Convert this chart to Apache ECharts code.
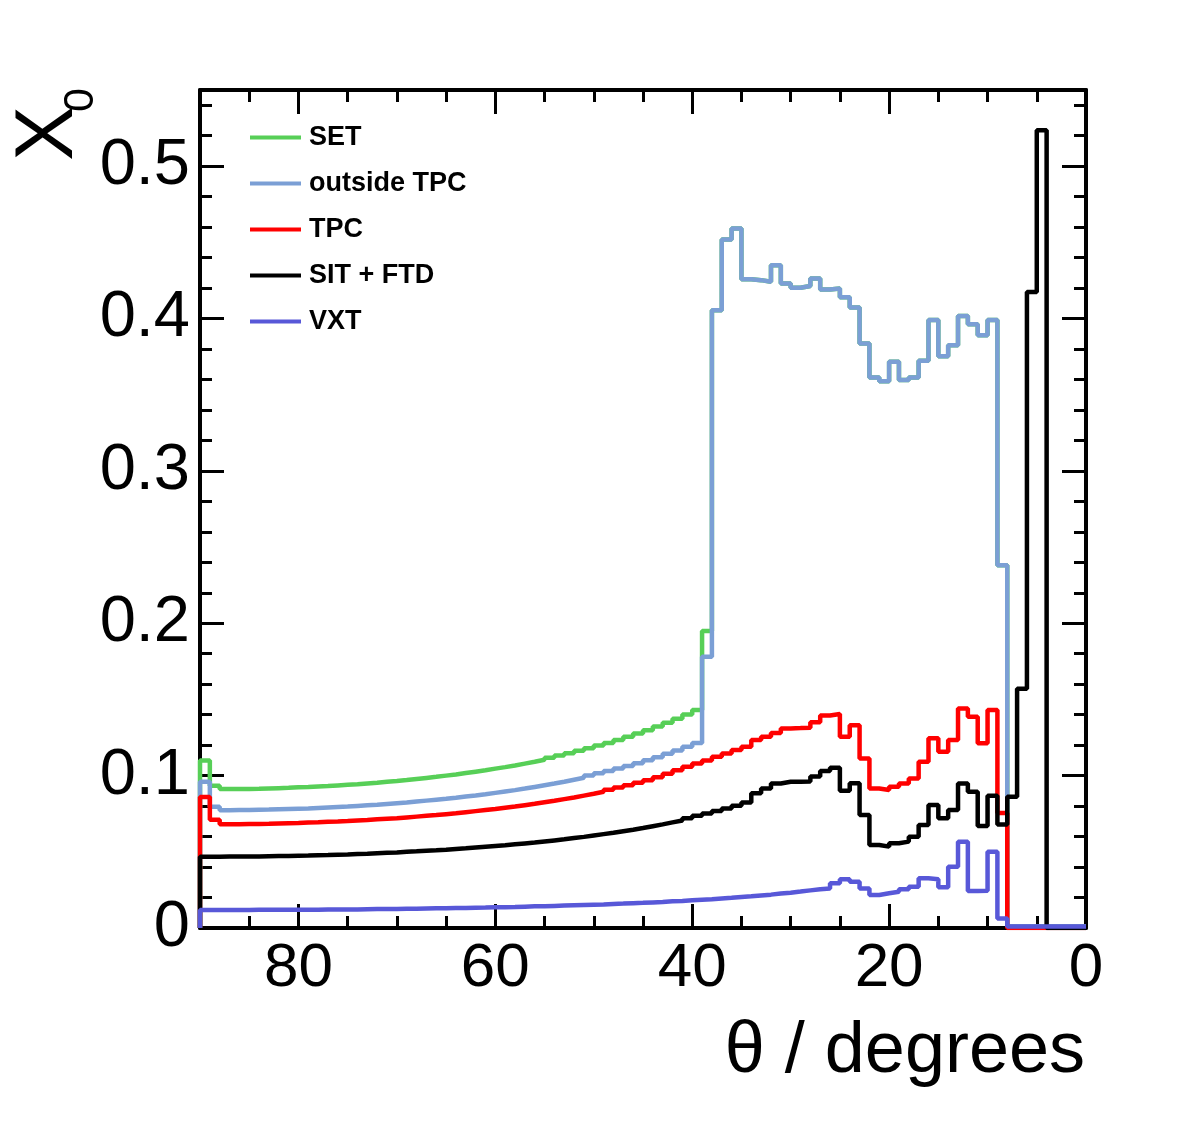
<!DOCTYPE html>
<html>
<head>
<meta charset="utf-8">
<script src="https://cdn.jsdelivr.net/npm/echarts@6/dist/echarts.min.js"></script>
<style>
  html, body { margin: 0; padding: 0; background: #fff; }
  #chart { width: 1182px; height: 1134px; }
</style>
</head>
<body>
<div id="chart"></div>
<script>
// bin contents, 1 degree bins, from theta = 89.5 down to 0.5
var seriesNames = ['SET', 'outside TPC', 'TPC', 'SIT + FTD', 'VXT'];
var seriesColors = ['#57cf57', '#7b9fd5', '#ff0000', '#000000', '#5858d8'];

var setX0 = [
  0.110, 0.0933, 0.0912, 0.0912, 0.0913, 0.0914, 0.0916, 0.0918, 0.0920, 0.0923,
  0.0925, 0.0929, 0.0932, 0.0936, 0.0940, 0.0944, 0.0949, 0.0954, 0.0960, 0.0965,
  0.0971, 0.0978, 0.0985, 0.0992, 0.1000, 0.1008, 0.1017, 0.1026, 0.1035, 0.1046,
  0.1056, 0.1067, 0.1079, 0.1091, 0.1104, 0.1118, 0.1132, 0.1147, 0.1163, 0.1179,
  0.1197, 0.1215, 0.1234, 0.1255, 0.1276, 0.1298, 0.1322, 0.1347, 0.1373, 0.1401,
  0.1431, 0.195, 0.4055, 0.4519, 0.4591, 0.4258, 0.4252, 0.4241, 0.435, 0.423,
  0.4202, 0.4213, 0.4263, 0.4191, 0.4197, 0.414, 0.4073, 0.3836, 0.3613, 0.3589,
  0.3716, 0.3596, 0.3613, 0.3723, 0.399, 0.3753, 0.3825, 0.4016, 0.3963, 0.3891,
  0.399, 0.238, 0.001, 0.001, 0.001, 0.001, 0.001, 0.001, 0.001, 0.001
];
var outsideTpcX0 = [
  0.096, 0.0796, 0.0773, 0.0774, 0.0775, 0.0776, 0.0777, 0.0779, 0.0781, 0.0783,
  0.0785, 0.0788, 0.0791, 0.0794, 0.0797, 0.0801, 0.0805, 0.0809, 0.0814, 0.0819,
  0.0824, 0.0830, 0.0836, 0.0842, 0.0848, 0.0855, 0.0863, 0.0870, 0.0878, 0.0887,
  0.0896, 0.0905, 0.0915, 0.0926, 0.0937, 0.0948, 0.0960, 0.0973, 0.0986, 0.1001,
  0.1015, 0.1031, 0.1047, 0.1064, 0.1082, 0.1101, 0.1121, 0.1143, 0.1165, 0.1189,
  0.1214, 0.178, 0.4055, 0.4519, 0.4591, 0.4258, 0.4252, 0.4241, 0.435, 0.423,
  0.4202, 0.4213, 0.4263, 0.4191, 0.4197, 0.414, 0.4073, 0.3836, 0.3613, 0.3589,
  0.3716, 0.3596, 0.3613, 0.3723, 0.399, 0.3753, 0.3825, 0.4016, 0.3963, 0.3891,
  0.399, 0.238, 0.001, 0.001, 0.001, 0.001, 0.001, 0.001, 0.001, 0.001
];
var tpcX0 = [
  0.086, 0.071, 0.0681, 0.0681, 0.0682, 0.0683, 0.0684, 0.0686, 0.0688, 0.0689,
  0.0692, 0.0694, 0.0697, 0.0699, 0.0702, 0.0706, 0.0709, 0.0713, 0.0717, 0.0721,
  0.0726, 0.0731, 0.0736, 0.0741, 0.0747, 0.0753, 0.0760, 0.0767, 0.0774, 0.0781,
  0.0789, 0.0797, 0.0806, 0.0815, 0.0825, 0.0835, 0.0846, 0.0857, 0.0869, 0.0881,
  0.0894, 0.0908, 0.0922, 0.0937, 0.0953, 0.0970, 0.0990, 0.1012, 0.1035, 0.1058,
  0.1080, 0.1100, 0.1124, 0.1146, 0.1168, 0.1190, 0.1234, 0.1255, 0.1280, 0.1310,
  0.1312, 0.1315, 0.1350, 0.1395, 0.1405, 0.1255, 0.1330, 0.1113, 0.0916, 0.0906,
  0.0927, 0.0949, 0.0982, 0.1091, 0.1245, 0.1157, 0.1234, 0.1441, 0.1387, 0.1212,
  0.1430, 0.0755, 0, 0, 0, 0, 0, 0, 0, 0
];
var sitFtdX0 = [
  0.0468, 0.0468, 0.0469, 0.0469, 0.0470, 0.0470, 0.0471, 0.0472, 0.0473, 0.0475,
  0.0476, 0.0478, 0.0479, 0.0481, 0.0483, 0.0486, 0.0488, 0.0491, 0.0494, 0.0496,
  0.0500, 0.0503, 0.0507, 0.0510, 0.0514, 0.0519, 0.0523, 0.0528, 0.0533, 0.0538,
  0.0543, 0.0549, 0.0555, 0.0561, 0.0568, 0.0575, 0.0582, 0.0590, 0.0598, 0.0607,
  0.0616, 0.0625, 0.0635, 0.0645, 0.0656, 0.0668, 0.0680, 0.0693, 0.0706, 0.0721,
  0.0736, 0.0751, 0.0768, 0.0785, 0.0803, 0.0823, 0.0884, 0.0916, 0.0949, 0.0960,
  0.0960, 0.0962, 0.0995, 0.1030, 0.1052, 0.0900, 0.0950, 0.0741, 0.0545, 0.0534,
  0.0556, 0.0567, 0.0599, 0.0676, 0.0807, 0.0720, 0.0774, 0.0949, 0.0895, 0.0670,
  0.0868, 0.0680, 0.0862, 0.157, 0.4175, 0.5236, 0, 0, 0, 0
];
var vxtX0 = [
  0.0118, 0.0118, 0.0118, 0.0118, 0.0118, 0.0119, 0.0119, 0.0119, 0.0119, 0.0120,
  0.0120, 0.0120, 0.0121, 0.0121, 0.0122, 0.0122, 0.0123, 0.0124, 0.0124, 0.0125,
  0.0126, 0.0127, 0.0128, 0.0129, 0.0130, 0.0131, 0.0132, 0.0133, 0.0134, 0.0136,
  0.0137, 0.0138, 0.0140, 0.0142, 0.0143, 0.0145, 0.0147, 0.0149, 0.0151, 0.0153,
  0.0155, 0.0158, 0.0160, 0.0163, 0.0165, 0.0168, 0.0171, 0.0175, 0.0178, 0.0182,
  0.0186, 0.0189, 0.0194, 0.0198, 0.0203, 0.0208, 0.0214, 0.0219, 0.0226, 0.0232,
  0.0239, 0.0247, 0.0255, 0.0260, 0.0293, 0.0320, 0.0304, 0.0260, 0.0217, 0.0228,
  0.0238, 0.0254, 0.0271, 0.0326, 0.0320, 0.0267, 0.0402, 0.0566, 0.0243, 0.0245,
  0.0500, 0.0063, 0.001, 0.001, 0.001, 0.001, 0.001, 0.001, 0.001, 0.001
];
var allValues = [setX0, outsideTpcX0, tpcX0, sitFtdX0, vxtX0];

var thetaMax = 90;
var font = 'Liberation Sans';

// histogram outline: start at 0 on the left edge, one point per bin upper edge
function histPoints(vals) {
  var pts = [[thetaMax, 0]];
  for (var i = 0; i < vals.length; i++) {
    pts.push([thetaMax - i, vals[i]]);
  }
  pts.push([thetaMax - vals.length, vals[vals.length - 1]]);
  return pts;
}

var chart = echarts.init(document.getElementById('chart'));

var frameLine = { show: true, onZero: false, lineStyle: { color: '#000', width: 4 } };
function tick(len) {
  return { show: true, inside: true, length: len, lineStyle: { color: '#000', width: 3 } };
}
function xAx(pos, interval, major, labels) {
  return {
    type: 'value', min: 0, max: 90, inverse: true, position: pos, interval: interval,
    axisLine: major ? frameLine : { show: false, onZero: false },
    axisTick: tick(major ? 24 : 12),
    axisLabel: labels ? { show: true, fontSize: 62, fontFamily: font, color: '#000', margin: 10, showMaxLabel: false } : { show: false },
    splitLine: { show: false }
  };
}
function yAx(pos, interval, major, labels) {
  return {
    type: 'value', min: 0, max: 0.55, position: pos, interval: interval,
    axisLine: major ? frameLine : { show: false, onZero: false },
    axisTick: tick(major ? 24 : 12),
    axisLabel: labels ? { show: true, fontSize: 65, fontFamily: font, color: '#000', margin: 10, showMaxLabel: false } : { show: false },
    splitLine: { show: false }
  };
}

var option = {
  animation: false,
  backgroundColor: '#fff',
  grid: { left: 200, right: 96, top: 90, bottom: 206, containLabel: false, outerBoundsMode: 'none' },
  legend: {
    orient: 'vertical', left: 245, top: 119, itemGap: 19,
    icon: 'rect', itemWidth: 51, itemHeight: 4,
    textStyle: { fontSize: 27, fontWeight: 'bold', fontFamily: font, color: '#000', padding: [0, 0, 0, 3] },
    data: seriesNames
  },
  xAxis: [
    xAx('bottom', 20, true, true),
    xAx('bottom', 5, false, false),
    xAx('top', 20, true, false),
    xAx('top', 5, false, false)
  ],
  yAxis: [
    yAx('left', 0.1, true, true),
    yAx('left', 0.02, false, false),
    yAx('right', 0.1, true, false),
    yAx('right', 0.02, false, false)
  ],
  series: seriesNames.map(function (name, k) {
    return {
      name: name, type: 'line', step: 'end', xAxisIndex: 0, yAxisIndex: 0,
      showSymbol: false, symbol: 'none',
      color: seriesColors[k],
      lineStyle: { color: seriesColors[k], width: 4.5 },
      data: histPoints(allValues[k])
    };
  }),
  graphic: [
    { type: 'text', right: 97, top: 1016, style: { text: 'θ / degrees', font: '72px "Liberation Sans"', fill: '#000' } },
    { type: 'text', x: 90, y: 106, rotation: Math.PI / 2, style: { text: 'X', font: '82px "Liberation Sans"', fill: '#000', align: 'right', verticalAlign: 'bottom' } },
    { type: 'text', x: 103, y: 88, rotation: Math.PI / 2, style: { text: '0', font: '43px "Liberation Sans"', fill: '#000', align: 'right', verticalAlign: 'bottom' } }
  ]
};
chart.setOption(option);
</script>
</body>
</html>
